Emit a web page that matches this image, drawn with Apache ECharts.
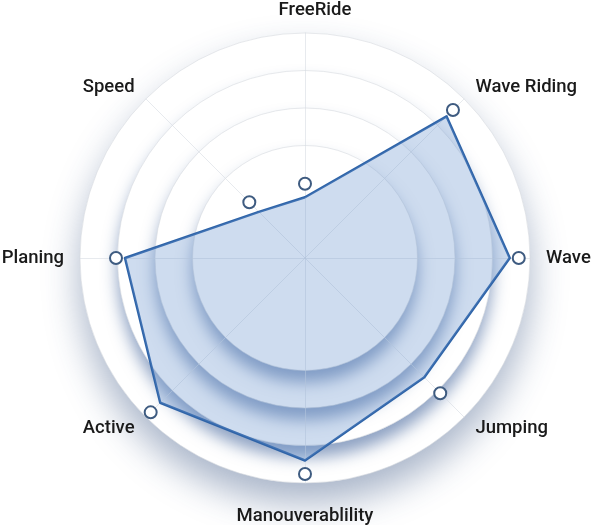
<!DOCTYPE html>
<html>
<head>
<meta charset="utf-8">
<script src="https://cdn.jsdelivr.net/npm/echarts@6/dist/echarts.min.js"></script>
<style>
html,body{margin:0;padding:0;background:#fff;}
#chart{width:595px;height:525px;}
</style>
</head>
<body>
<div id="chart"></div>
<script>
// Indicators listed counterclockwise starting at the top
var indicatorNames = ['FreeRide', 'Speed', 'Planing', 'Active', 'Manouverablility', 'Jumping', 'Wave', 'Wave Riding'];
var maxValue = 100;
var profileValues = [27, 29, 80, 91, 90, 75, 91, 89];
var markerValues = [33, 35, 84, 97, 96, 85, 95, 93];
var diskRadii = [225, 187.5, 150, 112.5];

var CX = 305, CY = 258;
var FONT = "'Roboto', 'DejaVu Sans Condensed', sans-serif";
var nameText = { color: '#1a1a1a', fontSize: 18.5, fontWeight: 500, fontFamily: FONT };

var indicators = indicatorNames.map(function (n) { return { name: n, max: maxValue, min: 0 }; });

var radars = [{
  center: [CX, CY],
  radius: diskRadii[0],
  startAngle: 90,
  shape: 'circle',
  splitNumber: 6,
  z: 10,
  indicator: indicators,
  axisName: {
    color: nameText.color, fontSize: nameText.fontSize, fontWeight: nameText.fontWeight, fontFamily: FONT,
    formatter: function (name) {
      if (name === 'FreeRide') return '{top|' + name + '}';
      if (name === 'Manouverablility') return '{bottom|' + name + '}';
      return name;
    },
    rich: {
      top: Object.assign({ padding: [0, 0, 0, 20], lineHeight: 14 }, nameText),
      bottom: Object.assign({ padding: [8, 0, 0, 0] }, nameText)
    }
  },
  nameGap: 16,
  axisLine: { lineStyle: { color: 'rgba(215,220,226,0.6)', width: 1 } },
  splitLine: { lineStyle: { color: ['transparent', 'transparent', 'transparent', 'rgba(215,219,224,0.6)', 'rgba(215,219,224,0.6)', 'rgba(215,219,224,0.6)', 'rgba(215,219,224,0.6)'], width: 1 } },
  splitArea: { show: false }
}];

diskRadii.forEach(function (r, i) {
  radars.push({
    center: [CX, CY],
    radius: r,
    startAngle: 90,
    shape: 'circle',
    splitNumber: 1,
    z: 1 + i,
    indicator: indicators,
    axisName: { show: false },
    axisLine: { show: false },
    axisTick: { show: false },
    axisLabel: { show: false },
    splitLine: { show: false },
    splitArea: {
      show: true,
      areaStyle: {
        color: ['#ffffff'],
        shadowColor: i === 0 ? 'rgba(40,70,120,0.40)' : 'rgba(30,70,135,0.5)',
        shadowBlur: i === 0 ? 36 : 16,
        shadowOffsetY: i === 0 ? 20 : 12
      }
    }
  });
});

var chart = echarts.init(document.getElementById('chart'), null, { renderer: 'canvas' });
chart.setOption({
  animation: false,
  backgroundColor: '#ffffff',
  radar: radars,
  series: [{
    type: 'radar',
    radarIndex: 0,
    z: 20,
    data: [
      {
        name: 'profile',
        value: profileValues,
        symbol: 'none',
        lineStyle: { color: '#2f64a8', width: 2.5, join: 'round' },
        areaStyle: { color: 'rgba(100,145,205,0.45)' }
      },
      {
        name: 'markers',
        value: markerValues,
        symbol: 'circle',
        symbolSize: 12,
        lineStyle: { opacity: 0 },
        itemStyle: { color: '#ffffff', borderColor: '#3e5b80', borderWidth: 2 }
      }
    ]
  }]
});
</script>
</body>
</html>
